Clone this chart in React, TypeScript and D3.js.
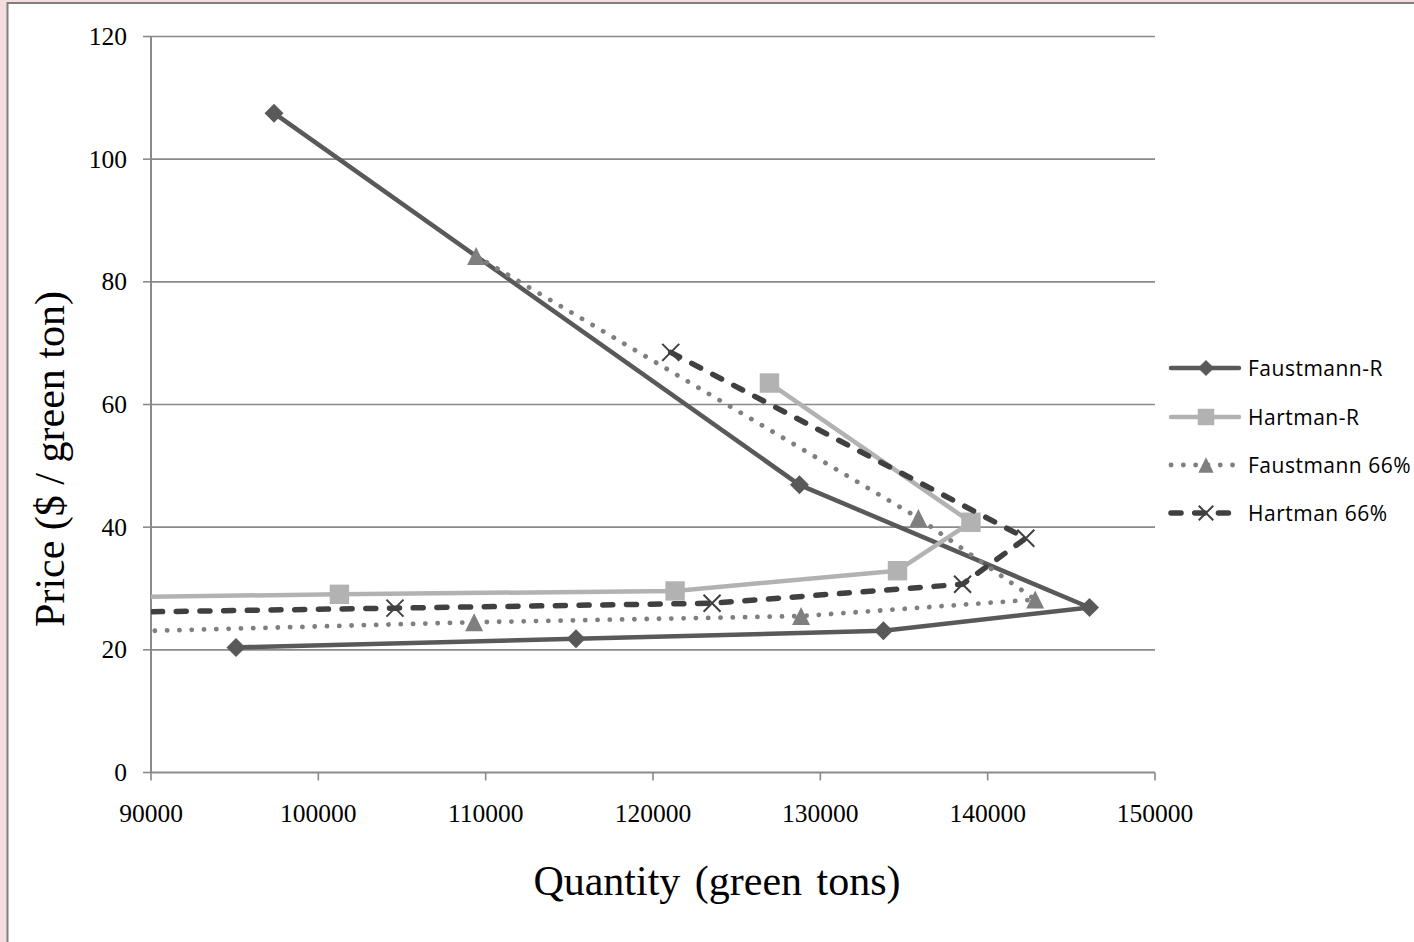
import React from 'react';
import * as d3 from 'd3';

// ── Data (quantity in green tons, price in $ / green ton) ──────────────────
const faustmannRQty = [97350, 128750, 146085, 133770, 115400, 95080];
const faustmannRPrice = [107.5, 46.9, 26.9, 23.1, 21.8, 20.4];

// last point lies left of the axis minimum and is clipped, as in the source
const hartmanRQty = [126960, 139000, 134610, 121320, 101260, 85000];
const hartmanRPrice = [63.5, 40.8, 32.9, 29.6, 29.05, 28.5];

const faustmann66Qty = [109430, 135860, 142840, 128850, 109310, 86000];
const faustmann66Price = [84.2, 41.5, 28.2, 25.5, 24.5, 22.8];

const hartman66Qty = [121060, 142280, 138500, 123530, 104580, 85000];
const hartman66Price = [68.5, 38.2, 30.7, 27.6, 26.8, 26.0];

const xTicks = [90000, 100000, 110000, 120000, 130000, 140000, 150000];
const yTicks = [0, 20, 40, 60, 80, 100, 120];

type Marker = 'diamond' | 'square' | 'triangle' | 'x';

interface Series {
  name: string;
  qty: number[];
  price: number[];
  color: string;
  width: number;
  dash?: string;
  marker: Marker;
}

const SERIES: Series[] = [
  { name: 'Faustmann-R', qty: faustmannRQty, price: faustmannRPrice, color: '#595959', width: 4.5, marker: 'diamond' },
  { name: 'Hartman-R', qty: hartmanRQty, price: hartmanRPrice, color: '#b2b2b2', width: 4.5, marker: 'square' },
  { name: 'Faustmann 66%', qty: faustmann66Qty, price: faustmann66Price, color: '#7f7f7f', width: 4.8, dash: '0.1 12.2', marker: 'triangle' },
  { name: 'Hartman 66%', qty: hartman66Qty, price: hartman66Price, color: '#404040', width: 5.5, dash: '10 13.7', marker: 'x' },
];

// ── Layout ─────────────────────────────────────────────────────────────────
const W = 1414;
const H = 942;
const PLOT = { left: 151, right: 1155, top: 36.5, bottom: 772.5 };
const GRID = '#8a8a8a';
const SERIF = '"Liberation Serif", "Times New Roman", serif';
const SANS = '"Open Sans", "Noto Sans", sans-serif';

const MarkerShape: React.FC<{ kind: Marker; x: number; y: number; color: string; s?: number }> = ({ kind, x, y, color, s = 1 }) => {
  if (kind === 'diamond') {
    const r = 9.5 * s;
    return <path d={`M${x},${y - r}L${x + r},${y}L${x},${y + r}L${x - r},${y}Z`} fill={color} />;
  }
  if (kind === 'square') {
    const r = 9.7 * s;
    return <rect x={x - r} y={y - r} width={r * 2} height={r * 2} fill={color} />;
  }
  if (kind === 'triangle') {
    const r = 9 * s;
    return <path d={`M${x},${y - r}L${x + r},${y + r}L${x - r},${y + r}Z`} fill={color} />;
  }
  const r = 8.5 * s;
  return (
    <path d={`M${x - r},${y - r}L${x + r},${y + r}M${x + r},${y - r}L${x - r},${y + r}`}
      stroke={color} strokeWidth={2} fill="none" />
  );
};

export default function App() {
  const x = d3.scaleLinear().domain([90000, 150000]).range([PLOT.left, PLOT.right]);
  const y = d3.scaleLinear().domain([0, 120]).range([PLOT.bottom, PLOT.top]);

  const line = d3.line<[number, number]>().x(d => x(d[0])).y(d => y(d[1]));

  const legendRows = [368, 417, 465, 513];

  return (
    <svg width={W} height={H} style={{ position: 'absolute', left: 0, top: 0 }}>
      <defs>
        <clipPath id="plot-clip">
          <rect x={PLOT.left} y={PLOT.top - 20} width={PLOT.right - PLOT.left} height={PLOT.bottom - PLOT.top + 40} />
        </clipPath>
      </defs>

      {/* frame */}
      <rect x={0} y={0} width={W} height={H} fill="#f2dede" />
      <rect x={7.5} y={3} width={W + 20} height={H + 20} fill="#ffffff" stroke="#7f7f7f" strokeWidth={2} />

      {/* gridlines */}
      {yTicks.filter(t => t > 0).map(t => (
        <line key={t} x1={PLOT.left} x2={PLOT.right} y1={y(t)} y2={y(t)} stroke={GRID} strokeWidth={1.6} />
      ))}

      {/* axes */}
      <line x1={PLOT.left} x2={PLOT.left} y1={PLOT.top} y2={PLOT.bottom} stroke={GRID} strokeWidth={2} />
      <line x1={PLOT.left} x2={PLOT.right} y1={PLOT.bottom} y2={PLOT.bottom} stroke={GRID} strokeWidth={2} />
      {yTicks.map(t => (
        <g key={t}>
          <line x1={PLOT.left - 8} x2={PLOT.left} y1={y(t)} y2={y(t)} stroke={GRID} strokeWidth={1.6} />
          <text x={127} y={y(t) + 8.5} textAnchor="end" fontFamily={SERIF} fontSize={25.5} fill="#000">{t}</text>
        </g>
      ))}
      {xTicks.map(t => (
        <g key={t}>
          <line x1={x(t)} x2={x(t)} y1={PLOT.bottom} y2={PLOT.bottom + 8} stroke={GRID} strokeWidth={1.6} />
          <text x={x(t)} y={821.5} textAnchor="middle" fontFamily={SERIF} fontSize={25.5} fill="#000">{t}</text>
        </g>
      ))}

      {/* axis titles */}
      <text x={717} y={895} textAnchor="middle" fontFamily={SERIF} fontSize={42} fill="#000" wordSpacing={4}>Quantity (green tons)</text>
      <text transform="translate(64,459) rotate(-90)" textAnchor="middle" fontFamily={SERIF} fontSize={42} fill="#000">Price ($ / green ton)</text>

      {/* series */}
      <g clipPath="url(#plot-clip)">
        {SERIES.map(s => {
          const pts = s.qty.map((q, i) => [q, s.price[i]] as [number, number]);
          return (
            <g key={s.name}>
              <path d={line(pts) ?? ''} fill="none" stroke={s.color} strokeWidth={s.width}
                strokeDasharray={s.dash} strokeLinecap={s.dash ? 'round' : 'butt'} strokeLinejoin="round" />
              {pts.filter(p => p[0] >= 90000).map((p, i) => (
                <MarkerShape key={i} kind={s.marker} x={x(p[0])} y={y(p[1])} color={s.color} />
              ))}
            </g>
          );
        })}
      </g>

      {/* legend */}
      {SERIES.map((s, i) => {
        const ly = legendRows[i];
        return (
          <g key={s.name}>
            <line x1={1171} x2={1239} y1={ly} y2={ly} stroke={s.color} strokeWidth={s.width}
              strokeDasharray={s.dash} strokeLinecap="round" />
            <MarkerShape kind={s.marker} x={1206} y={ly} color={s.color} s={0.85} />
            <text x={1248} y={ly + 7.5} fontFamily={SANS} fontSize={21} letterSpacing={0.5} fill="#000">{s.name}</text>
          </g>
        );
      })}
    </svg>
  );
}
